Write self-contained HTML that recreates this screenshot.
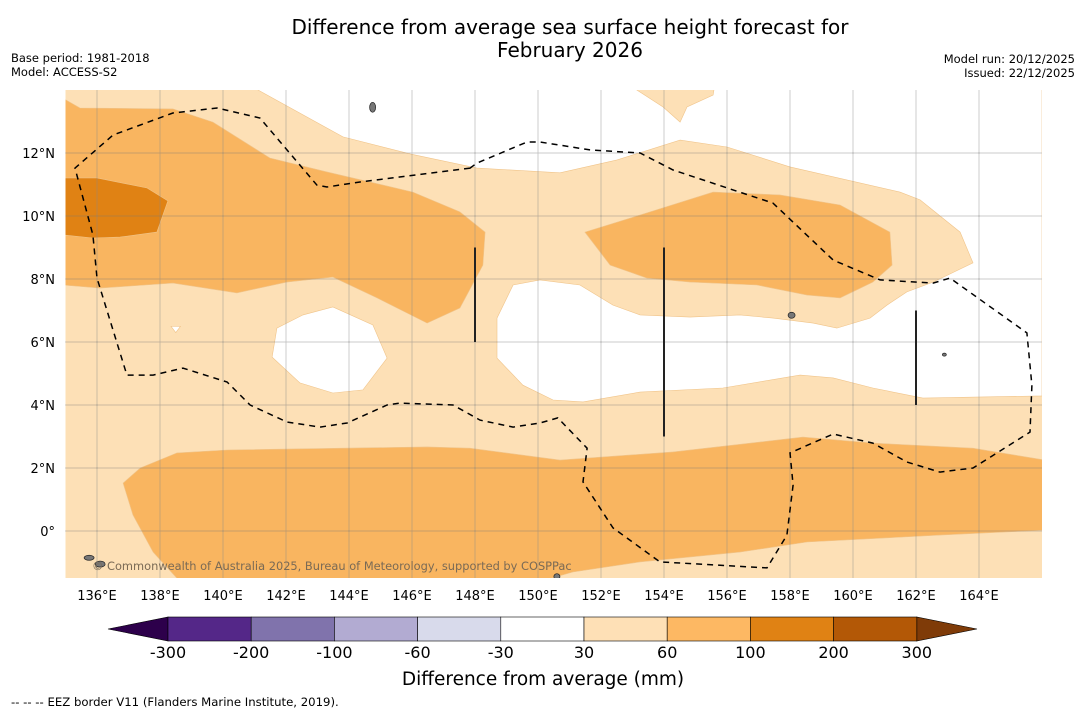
<!DOCTYPE html>
<html><head><meta charset="utf-8">
<style>
body{margin:0;background:#fff;font-family:"Liberation Sans","DejaVu Sans",sans-serif;}
svg text{font-family:"DejaVu Sans","Liberation Sans",sans-serif;}
</style></head>
<body>
<svg id="chart" width="1085" height="713" viewBox="0 0 1085 713" xmlns="http://www.w3.org/2000/svg">
<text x="570" y="34" font-size="20" text-anchor="middle">Difference from average sea surface height forecast for</text>
<text x="570" y="57" font-size="20" text-anchor="middle">February 2026</text>
<text x="11" y="62" font-size="11.5">Base period: 1981-2018</text>
<text x="11" y="76" font-size="11.5">Model: ACCESS-S2</text>
<text x="1075" y="63" font-size="11.5" text-anchor="end">Model run: 20/12/2025</text>
<text x="1075" y="77" font-size="11.5" text-anchor="end">Issued: 22/12/2025</text>
<defs><clipPath id="plotclip"><rect x="65.5" y="90" width="976.5" height="488"/></clipPath></defs>
<g id="map" clip-path="url(#plotclip)"></g>
<g id="axes"></g>
<g id="cbar"></g>
<text x="92" y="570" font-size="11.4" fill="#7a6a55">© Commonwealth of Australia 2025, Bureau of Meteorology, supported by COSPPac</text>
<text x="543" y="685" font-size="18.5" text-anchor="middle">Difference from average (mm)</text>
<text x="11" y="706" font-size="11.7">--  --  -- EEZ border V11 (Flanders Marine Institute, 2019).</text>
</svg>
<script>
const lonTicks=[136,138,140,142,144,146,148,150,152,154,156,158,160,162,164];
const latTicks=[0,2,4,6,8,10,12];
const cbarLevels=[-300,-200,-100,-60,-30,30,60,100,200,300];
const cbarColors=["#542788","#8073ac","#b2abd2","#d8daeb","#ffffff","#fee0b6","#fdb863","#e08214","#b35806"];
const whiteRegion=[[141.11,14],[143.81,12.51],[145.94,11.97],[148.06,11.52],[150.70,11.37],[152.51,11.78],[154.51,12.41],[156.0,12.19],[158.0,11.56],[161.49,10.76],[162.13,10.51],[163.40,9.49],[163.81,8.51],[162.54,7.90],[161.71,7.59],[161.08,7.17],[160.54,6.76],[159.49,6.44],[158.73,6.60],[157.46,6.76],[156.41,6.86],[154.83,6.79],[153.24,6.86],[152.38,7.17],[151.33,7.81],[150.06,7.97],[149.21,7.81],[148.70,6.76],[148.70,5.49],[149.52,4.63],[150.48,4.16],[151.43,4.10],[153.24,4.41],[155.87,4.54],[158.32,4.95],[159.37,4.86],[160.63,4.54],[162.22,4.22],[166,4.29],[166,14.2],[155.62,14.2],[155.56,13.84],[154.73,13.46],[154.51,12.98],[153.97,13.46],[152.83,14.2],[141.0,14.2]];
const whiteHole=[[141.71,6.44],[142.54,6.86],[143.49,7.11],[144.76,6.54],[145.21,5.49],[144.44,4.48],[143.49,4.38],[142.44,4.70],[141.56,5.52]];
const whiteSpeck=[[138.35,6.5],[138.65,6.5],[138.5,6.3]];
const midNorthWest=[[134.9,13.75],[135.46,13.43],[138.41,13.40],[139.68,12.98],[141.49,11.84],[143.30,11.40],[146.03,10.76],[147.52,10.13],[148.32,9.49],[148.25,8.44],[147.52,7.08],[146.48,6.60],[144.89,7.40],[143.49,8.06],[142.03,7.90],[140.44,7.56],[138.41,7.87],[136.10,7.71],[134.9,7.81]];
const darkNorthWest=[[134.9,11.21],[136.0,11.21],[137.59,10.89],[138.25,10.48],[137.90,9.49],[136.73,9.33],[135.87,9.30],[134.9,9.40]];
const midNorthEast=[[151.49,9.49],[153.56,10.13],[155.56,10.76],[157.68,10.67],[159.59,10.35],[161.17,9.49],[161.24,8.44],[160.63,7.90],[159.59,7.40],[158.54,7.49],[156.95,7.81],[154.83,7.90],[153.46,8.03],[152.29,8.44]];
const midSouth=[[136.83,1.52],[137.37,2.0],[138.54,2.48],[140.13,2.57],[146.48,2.67],[147.84,2.63],[150.70,2.25],[154.29,2.51],[158.41,2.98],[160.63,2.79],[163.81,2.63],[166.1,2.25],[166.1,0.03],[162.76,-0.13],[158.54,-0.35],[156.41,-0.67],[153.24,-0.98],[151.11,-1.30],[150.06,-1.6],[138.63,-1.6],[137.78,-0.67],[137.14,0.51]];
const eezBorder=[[147.84,11.52],[144.35,11.08],[143.30,10.92],[142.98,10.98],[141.17,13.11],[139.81,13.43],[138.41,13.27],[136.51,12.57],[135.30,11.52],[135.87,9.40],[136.0,8.03],[136.95,4.95],[137.78,4.95],[138.73,5.17],[140.13,4.73],[140.86,4.0],[142.03,3.46],[143.08,3.30],[143.94,3.43],[145.21,4.0],[145.62,4.06],[147.30,4.0],[148.16,3.52],[149.21,3.30],[150.06,3.43],[150.63,3.59],[151.56,2.63],[151.43,1.56],[152.38,0.10],[153.87,-0.98],[157.27,-1.17],[157.90,-0.13],[158.10,1.46],[158.0,2.48],[159.37,3.08],[160.63,2.79],[161.71,2.19],[162.76,1.87],[163.81,2.0],[165.62,3.14],[165.68,4.63],[165.52,6.29],[163.08,8.03],[162.54,7.87],[160.86,7.97],[159.37,8.60],[157.46,10.41],[156.19,10.83],[154.29,11.46],[153.24,12.0],[151.65,12.10],[150.06,12.35],[149.65,12.35],[148.06,11.68]];
const tracks=[[148,9,6],[154,9,3],[162,7,4]];
const islands=[[144.75,13.45,3,5],[158.05,6.85,3.5,3],[135.75,-0.85,5,2.5],[136.1,-1.05,5,3],[150.6,-1.45,3,3],[162.9,5.6,2,1.5]];

const X=lon=>65.5+(lon-135)*31.5;
const Y=lat=>531-lat*31.5;
const NS="http://www.w3.org/2000/svg";
function mk(tag,attrs,parent){const e=document.createElementNS(NS,tag);for(const k in attrs)e.setAttribute(k,attrs[k]);parent.appendChild(e);return e;}
const pts=a=>a.map(p=>X(p[0]).toFixed(1)+","+Y(p[1]).toFixed(1)).join(" ");
const map=document.getElementById("map");
let el=mk("rect",{x:65.5,y:90,width:976.5,height:488,fill:"#fde0b6"},map);


const polys=[[whiteRegion,"#ffffff","band-neutral-north"],[whiteHole,"#ffffff","band-neutral-hole"],[whiteSpeck,"#ffffff","band-neutral-speck"],[midNorthWest,"#f9b560","band-60-100-northwest"],[midNorthEast,"#f9b560","band-60-100-northeast"],[midSouth,"#f9b560","band-60-100-south"],[darkNorthWest,"#e08214","band-100-200-northwest"]];
polys.forEach(p=>{
  const e=mk("polygon",{points:pts(p[0]),fill:p[1],stroke:"#f0c48a","stroke-width":0.6},map);
  
  
});
lonTicks.forEach(l=>{const e=mk("line",{x1:X(l),x2:X(l),y1:90,y2:578,stroke:"#888","stroke-width":0.6,"stroke-opacity":0.7},map);
  
  });
latTicks.forEach(l=>{const e=mk("line",{x1:65.5,x2:1042,y1:Y(l),y2:Y(l),stroke:"#777","stroke-width":0.8,"stroke-dasharray":"1,1"},map);
  
  });
islands.forEach(i=>{const e=mk("ellipse",{cx:X(i[0]),cy:Y(i[1]),rx:i[2],ry:i[3],fill:"#777",stroke:"#222","stroke-width":0.7},map);
  
  });
el=mk("polygon",{points:pts(eezBorder),fill:"none",stroke:"#000","stroke-width":1.5,"stroke-dasharray":"6,5"},map);


tracks.forEach(t=>{const e=mk("line",{x1:X(t[0]),x2:X(t[0]),y1:Y(t[1]),y2:Y(t[2]),stroke:"#222","stroke-width":2},map);
  
  });
const axes=document.getElementById("axes");
lonTicks.forEach(l=>{const e=mk("text",{x:X(l),y:600,"font-size":13,"text-anchor":"middle"},axes);e.textContent=l+"°E";
  
  });
latTicks.forEach(l=>{const e=mk("text",{x:55,y:Y(l)+5,"font-size":13,"text-anchor":"end"},axes);e.textContent=l===0?"0°":l+"°N";
  
  });
const cb=document.getElementById("cbar");
const cx0=168,cw=83.2,cy=617,ch=24;
el=mk("polygon",{points:`${cx0},${cy} ${cx0},${cy+ch} 108,${cy+ch/2}`,fill:"#2d004b",stroke:"#000","stroke-width":0.6},cb);


const cEnd=cx0+cw*cbarColors.length;
el=mk("polygon",{points:`${cEnd},${cy} ${cEnd},${cy+ch} 977,${cy+ch/2}`,fill:"#7f3b08",stroke:"#000","stroke-width":0.6},cb);


cbarColors.forEach((c,i)=>{const e=mk("rect",{x:cx0+i*cw,y:cy,width:cw,height:ch,fill:c,stroke:"#000","stroke-width":0.6},cb);
  
  });
cbarLevels.forEach((v,i)=>{const e=mk("text",{x:cx0+i*cw,y:658,"font-size":16,"text-anchor":"middle"},cb);e.textContent=v;
  
  });
</script>
</body></html>
